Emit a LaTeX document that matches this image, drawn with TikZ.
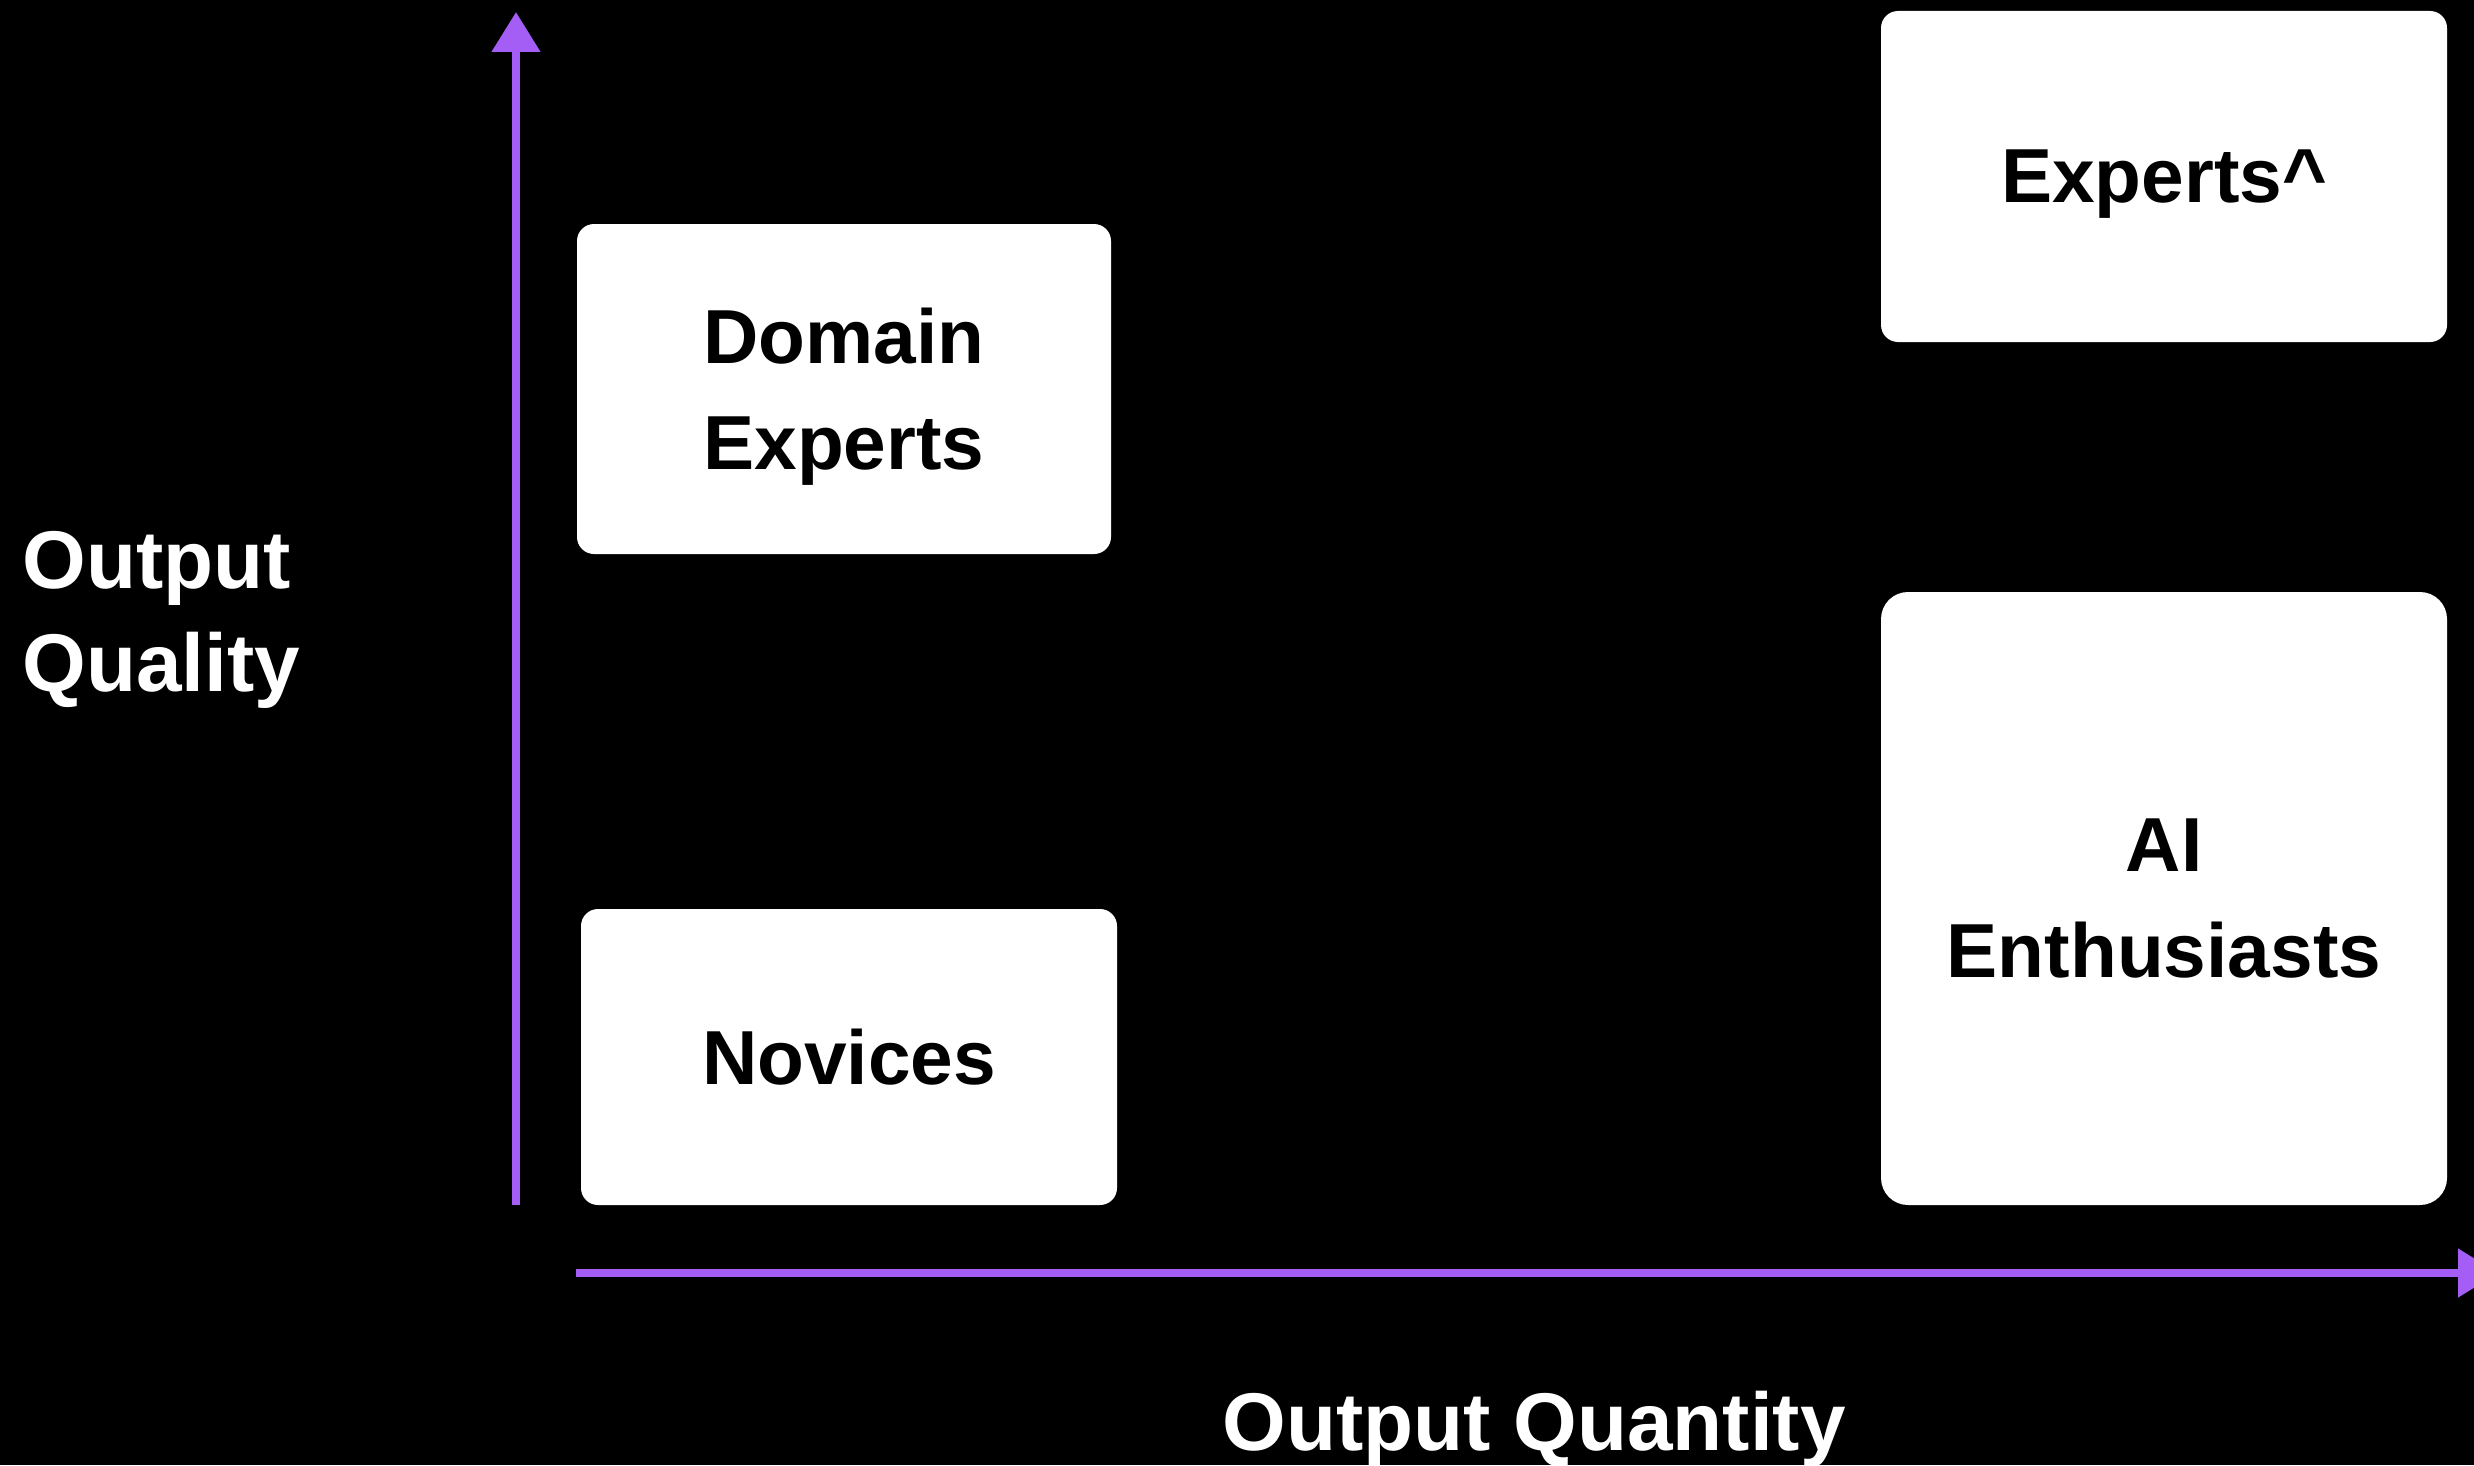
\documentclass[tikz,border=0pt]{standalone}
\usepackage{fontspec}
\setmainfont{Liberation Sans}
\usepackage{tikz}
\usetikzlibrary{arrows.meta,positioning}
\usepackage{xcolor}
\definecolor{axispurple}{RGB}{164, 94, 246}

\begin{document}
\begin{tikzpicture}[
    box/.style={fill=white, rounded corners=0.17cm, align=center, inner sep=0pt, text depth=0pt,
      font=\bfseries\fontsize{21.8}{30.2}\selectfont},
    axis/.style={axispurple, line width=0.08cm, -{Triangle[length=0.4cm, width=0.47cm]}},
    axislabel/.style={white, inner sep=0pt, font=\bfseries\fontsize{23.3}{29.3}\selectfont}
  ]
    % Background
    \fill[black] (0,0) rectangle (24.74,14.65);
    \useasboundingbox (0,0) rectangle (24.74,14.65);

    % Axes
    \coordinate (yfoot) at (5.16,2.60);
    \coordinate (ytip) at (5.16,14.53);
    \coordinate (xfoot) at (5.76,1.92);
    \coordinate (xtip) at (24.98,1.92);
    \draw[axis] (yfoot) -- (ytip);
    \draw[axis] (xfoot) -- (xtip);

    % Quadrant boxes
    \node[box, minimum width=5.34cm, minimum height=3.30cm] (domain) at (8.44,10.76) {Domain\\Experts};
    \node[box, minimum width=5.36cm, minimum height=2.96cm] (novices) at (8.49,4.08) {Novices};
    \node[box, minimum width=5.66cm, minimum height=3.31cm] (experts) at (21.64,12.885) {Experts\textasciicircum};
    \node[box, minimum width=5.66cm, minimum height=6.13cm, rounded corners=0.27cm] (enthusiasts) at (21.64,5.665) {AI\\Enthusiasts};

    % Axis labels
    \node[axislabel, align=left, anchor=west] (quality) at (0.22,8.455) {Output\\Quality};
    \node[axislabel, anchor=base] (quantity) at (15.34,0.15) {Output Quantity};
\end{tikzpicture}
\end{document}
